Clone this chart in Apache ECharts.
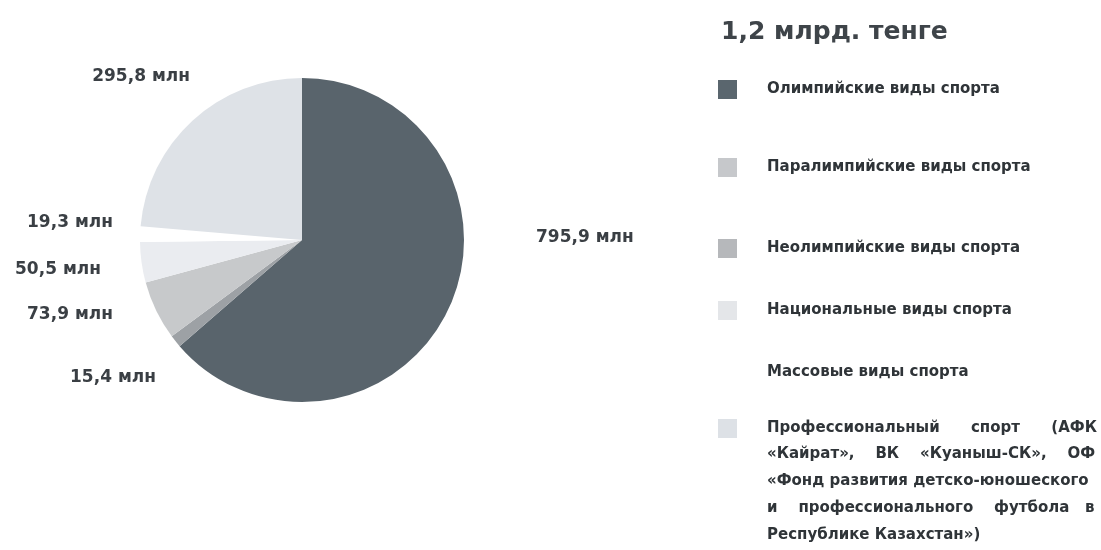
<!DOCTYPE html>
<html>
<head>
<meta charset="utf-8">
<script src="https://cdn.jsdelivr.net/npm/echarts@6/dist/echarts.min.js"></script>
<style>
html,body{margin:0;padding:0;background:#fff;}
#main{width:1101px;height:550px;}
</style>
</head>
<body>
<div id="main"></div>
<script>
const titleText = '1,2 млрд. тенге';
const categories = [
  'Олимпийские виды спорта',
  'Паралимпийские виды спорта',
  'Неолимпийские виды спорта',
  'Национальные виды спорта',
  'Массовые виды спорта',
  'Профессиональный спорт (АФК «Кайрат», ВК «Куаныш-СК», ОФ «Фонд развития детско-юношеского и профессионального футбола в Республике Казахстан»)'
];
const values = [795.9, 15.4, 73.9, 50.5, 19.3, 295.8];
const unit = 'млн';

// styling / layout (not data)
const sliceColors = ['#59646c', '#9da1a5', '#c7c9cb', '#eaecf0', '#ffffff', '#dee2e7'];
const legendIconColors = ['#5a666e', '#c6c8cb', '#b6b8bb', '#e4e6e9', '#ffffff', '#dde1e6'];
const legendTops = [80, 158, 239, 301, 363, 419];
const labelPos = [
  {x: 536, y: 238, align: 'left'},
  {x: 156, y: 378, align: 'right'},
  {x: 113, y: 315, align: 'right'},
  {x: 101, y: 270, align: 'right'},
  {x: 113, y: 223, align: 'right'},
  {x: 190, y: 77, align: 'right'}
];
const profLines = [
  'Профессиональный      спорт      (АФК',
  '«Кайрат»,    ВК    «Куаныш-СК»,    ОФ',
  '«Фонд развития детско-юношеского',
  'и    профессионального    футбола   в',
  'Республике Казахстан»)'
];

const FONT = 'DejaVu Sans';
const fmt = v => v.toFixed(1).replace('.', ',') + ' ' + unit;

const chart = echarts.init(document.getElementById('main'), null, {renderer: 'canvas'});

const legends = categories.map((name, i) => ({
  data: [{name: name, itemStyle: {color: legendIconColors[i]}}],
  orient: 'vertical',
  left: 718,
  top: legendTops[i],
  padding: 0,
  itemWidth: 19,
  itemHeight: 19,
  icon: 'rect',
  selectedMode: false,
  formatter: n => (i === 5 ? profLines[0] : n),
  textStyle: {
    fontFamily: FONT,
    fontWeight: 'bold',
    fontSize: 15,
    color: '#2f3438',
    padding: [0, 0, 0, 25]
  }
}));

const option = {
  backgroundColor: '#ffffff',
  animation: false,
  title: {
    text: titleText,
    left: 716,
    top: 15,
    textStyle: {fontFamily: FONT, fontWeight: 'bold', fontSize: 25, color: '#3e4449'}
  },
  legend: legends,
  graphic: [{
    type: 'text',
    left: 767,
    top: 440,
    style: {
      text: profLines.slice(1).join('\n'),
      font: 'bold 15px "' + FONT + '"',
      lineHeight: 27.3,
      fill: '#2f3438'
    }
  }],
  series: [{
    type: 'pie',
    center: [302, 240],
    radius: [0, 162],
    startAngle: 90,
    clockwise: true,
    silent: true,
    data: categories.map((name, i) => ({
      name: name,
      value: values[i],
      itemStyle: {color: sliceColors[i]}
    })),
    label: {
      show: true,
      position: 'outside',
      formatter: p => fmt(p.value),
      fontFamily: FONT,
      fontWeight: 'bold',
      fontSize: 17,
      color: '#3a3f44',
      overflow: 'none',
      width: 200
    },
    labelLine: {show: false},
    labelLayout: p => ({
      x: labelPos[p.dataIndex].x,
      y: labelPos[p.dataIndex].y,
      align: labelPos[p.dataIndex].align,
      verticalAlign: 'middle'
    })
  }]
};
chart.setOption(option);
</script>
</body>
</html>
